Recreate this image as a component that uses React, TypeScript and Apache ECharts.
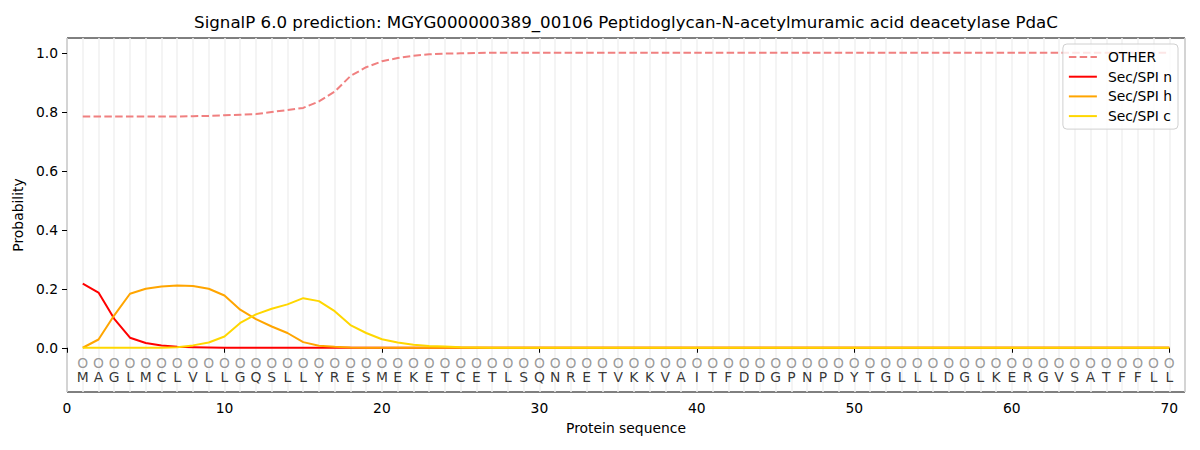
import React, { useEffect, useRef } from "react";
import * as echarts from "echarts";

const TITLE = "SignalP 6.0 prediction: MGYG000000389_00106 Peptidoglycan-N-acetylmuramic acid deacetylase PdaC";
const SEQUENCE = "MAGLMCLVLLGQSLLYRESMEKETCETLSQNRETVKKVAITFDDGPNPDYTGLLLDGLKERGVSATFFLL".split("");
const POSITIONS = SEQUENCE.map((_, i) => i + 1);

const OTHER = [
  0.784, 0.784, 0.784, 0.784, 0.784, 0.784, 0.784, 0.785, 0.786, 0.788,
  0.79, 0.792, 0.799, 0.806, 0.813, 0.835, 0.868, 0.921, 0.951, 0.971,
  0.982, 0.99, 0.995, 0.997, 0.998, 0.999, 1, 1, 1, 1,
  1, 1, 1, 1, 1, 1, 1, 1, 1, 1,
  1, 1, 1, 1, 1, 1, 1, 1, 1, 1,
  1, 1, 1, 1, 1, 1, 1, 1, 1, 1,
  1, 1, 1, 1, 1, 1, 1, 1, 1, 1,
];
const SEC_N_HEAD = [0.217, 0.187, 0.098, 0.034, 0.016, 0.008, 0.003, 0.002, 0.001];
const SEC_H_HEAD = [
  0, 0.028, 0.11, 0.183, 0.2, 0.208, 0.211, 0.209, 0.2, 0.177,
  0.129, 0.097, 0.072, 0.05, 0.019, 0.007, 0.003, 0.001,
];
const SEC_C_HEAD = [
  0, 0, 0, 0, 0, 0, 0.002, 0.008, 0.018, 0.038,
  0.084, 0.113, 0.132, 0.147, 0.168, 0.158, 0.124, 0.077, 0.05, 0.029,
  0.018, 0.01, 0.006, 0.004, 0.002, 0.001,
];
const X_TICKS = [0, 10, 20, 30, 40, 50, 60, 70];
const Y_TICKS = [0, 0.2, 0.4, 0.6, 0.8, 1.0];

const pad = (head: number[]) => POSITIONS.map((_, i) => (i < head.length ? head[i] : 0));
const SEC_N = pad(SEC_N_HEAD);
const SEC_H = pad(SEC_H_HEAD);
const SEC_C = pad(SEC_C_HEAD);

const FONT = "DejaVu Sans";
const FS = 13.89;

export default function App() {
  const ref = useRef<HTMLDivElement>(null);
  useEffect(() => {
    if (!ref.current) return;
    const chart = echarts.init(ref.current, null, { renderer: "svg" });
    const line = (name: string, values: number[], color: string, dashed = false) => ({
      name,
      type: "line",
      xAxisIndex: 0,
      yAxisIndex: 0,
      data: POSITIONS.map((x, i) => [x, values[i]]),
      symbol: "none",
      showSymbol: false,
      lineStyle: { color, width: 2, type: dashed ? [7.5, 3.3] : "solid" },
      itemStyle: { color },
      z: 3,
    });
    chart.setOption({
      animation: false,
      textStyle: { fontFamily: FONT },
      graphic: [
        {
          type: "text",
          x: 626,
          y: 22,
          style: {
            text: TITLE,
            fontFamily: FONT,
            fontSize: 16.67,
            fill: "#000",
            textAlign: "center",
            textVerticalAlign: "middle",
          },
        },
      ],
      grid: {
        left: 67,
        top: 38,
        width: 1118,
        height: 354,
        show: true,
        borderColor: "#000",
        borderWidth: 1,
        backgroundColor: "transparent",
      },
      legend: {
        orient: "vertical",
        right: 22,
        top: 44,
        data: ["OTHER", "Sec/SPI n", "Sec/SPI h", "Sec/SPI c"],
        itemWidth: 28,
        itemHeight: 14,
        itemGap: 5.7,
        padding: [6, 6, 6, 5],
        borderColor: "#d0d0d0",
        borderWidth: 1,
        borderRadius: 4,
        backgroundColor: "rgba(255,255,255,0.8)",
        itemStyle: { opacity: 0 },
        textStyle: { fontFamily: FONT, fontSize: FS, color: "#000", padding: [0, 0, 0, 6] },
      },
      xAxis: [
        {
          type: "value",
          min: 0,
          max: 71,
          interval: 10,
          name: "Protein sequence",
          nameLocation: "middle",
          nameGap: 29,
          nameTextStyle: { fontFamily: FONT, fontSize: FS, color: "#000" },
          axisLine: { show: false },
          axisTick: { show: true, length: 5, lineStyle: { color: "#000" }, customValues: X_TICKS },
          axisLabel: {
            margin: 9,
            fontFamily: FONT,
            fontSize: FS,
            color: "#000",
            customValues: X_TICKS,
            showMinLabel: true,
            showMaxLabel: true,
          },
          splitLine: { show: false },
        },
        {
          type: "value",
          min: 0,
          max: 71,
          interval: 1,
          axisLine: { show: false },
          axisTick: { show: false },
          axisLabel: { show: false },
          splitLine: { show: true, lineStyle: { color: "#f0f0f0", width: 1.5 } },
        },
      ],
      yAxis: {
        type: "value",
        min: -0.15,
        max: 1.05,
        name: "Probability",
        nameLocation: "middle",
        nameGap: 34,
        nameTextStyle: { fontFamily: FONT, fontSize: FS, color: "#000" },
        axisLine: { show: false },
        axisTick: { show: true, length: 5, lineStyle: { color: "#000" }, customValues: Y_TICKS },
        axisLabel: {
          margin: 9,
          fontFamily: FONT,
          fontSize: FS,
          color: "#000",
          customValues: Y_TICKS,
          formatter: (v: number) => v.toFixed(1),
        },
        splitLine: { show: false },
      },
      series: [
        line("OTHER", OTHER, "#f08080", true),
        line("Sec/SPI n", SEC_N, "#ff0000"),
        line("Sec/SPI h", SEC_H, "#ffa500"),
        line("Sec/SPI c", SEC_C, "#ffd700"),
        {
          name: "markers",
          type: "scatter",
          xAxisIndex: 0,
          yAxisIndex: 0,
          data: POSITIONS.map((x) => [x, -0.05]),
          symbolSize: 0,
          label: {
            show: true,
            position: "inside",
            formatter: () => "O",
            fontFamily: FONT,
            fontSize: FS,
            color: "#808080",
          },
          z: 4,
        },
        {
          name: "letters",
          type: "scatter",
          xAxisIndex: 0,
          yAxisIndex: 0,
          data: POSITIONS.map((x) => [x, -0.1]),
          symbolSize: 0,
          label: {
            show: true,
            position: "inside",
            formatter: (p: any) => SEQUENCE[p.dataIndex],
            fontFamily: FONT,
            fontSize: FS,
            color: "#000",
          },
          z: 4,
        },
      ],
    });
    return () => chart.dispose();
  }, []);
  return <div ref={ref} style={{ width: 1200, height: 450, margin: -8 }} />;
}
